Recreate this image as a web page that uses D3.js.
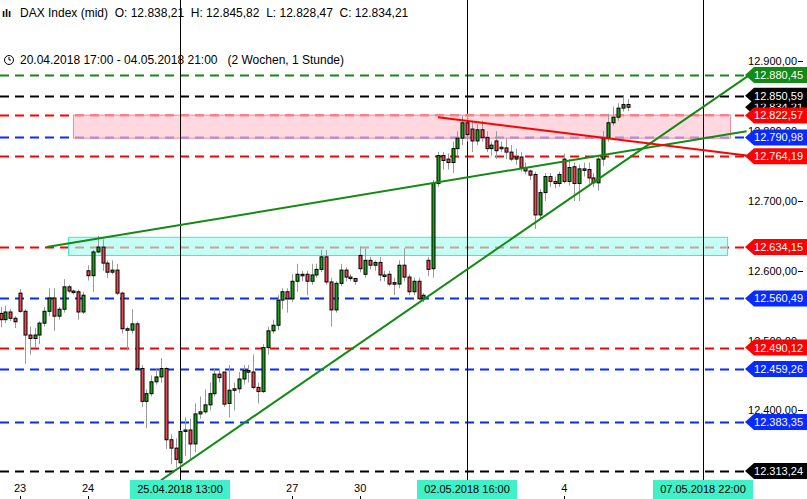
<!DOCTYPE html>
<html><head><meta charset="utf-8">
<script src="https://cdn.jsdelivr.net/npm/d3@7"></script>
<style>
body{margin:0;background:#fff;font-family:Arial,"Liberation Sans",sans-serif}
svg text{font-family:Arial,"Liberation Sans",sans-serif;white-space:pre}
</style></head>
<body><svg id="chart" width="807" height="499"></svg>
<script>
// hourly bars 20.04.2018 17:00 - 04.05.2018 21:00, 14 bars per day (08..21)
const opens  = [12545,12539,12530,12541,12532, 12568,12542,12508,12503,12508,12525,12542,12561,12535,12545,12577,12571,12570,12541,
  12600,12593,12627,12634,12611,12598,12601,12568,12517,12515,12524,12460,12413,12424, 12441,12448,12460,12358,12346,12325,12370,12372,12352,12395,12398,12408,12424,12452,
  12455,12410,12429,12431,12445,12457,12455,12433,12427,12490,12514,12522,12558,12570, 12560,12585,12595,12595,12585,12594,12602,12620,12584,12544,12582,12601,12591,12589,
  12622,12595,12615,12608,12612,12594,12595,12581,12581,12608,12591,12570,12585,12560, 12615,12603,12725,12765,12760,12755,12775,12790,12812,12803,12786,12802,12791,12775,
  12786,12777,12776,12770,12760,12763,12748,12743,12738,12680,12712,12735,12728,12725, 12760,12728,12749,12725,12746,12745,12733,12726,12760,12790,12812,12820,12833,12838.21]
const highs  = [12550,12548,12550,12545,12535, 12574,12545,12520,12518,12528,12548,12575,12575,12548,12588,12580,12573,12573,12570,
  12608,12630,12650,12645,12615,12615,12610,12570,12520,12545,12527,12465,12430,12450, 12460,12475,12462,12366,12360,12372,12390,12388,12410,12420,12430,12440,12460,12460,
  12455,12465,12440,12455,12465,12465,12480,12440,12495,12520,12530,12565,12575,12575, 12595,12610,12600,12600,12610,12610,12630,12630,12590,12585,12610,12605,12595,12590,
  12635,12632,12620,12615,12620,12600,12600,12590,12615,12632,12595,12590,12590,12568, 12620,12730,12770,12770,12768,12785,12800,12822,12825,12815,12810,12815,12800,12785,
  12800,12785,12790,12780,12775,12770,12755,12745,12742,12717,12740,12740,12735,12742, 12768,12760,12755,12752,12755,12755,12740,12765,12800,12825,12835,12840,12850,12845.82]
const lows   = [12535,12519,12525,12528,12518, 12540,12467,12480,12490,12495,12520,12535,12514,12530,12540,12568,12566,12530,12538,
  12586,12570,12625,12600,12590,12595,12565,12510,12486,12510,12460,12405,12375,12420, 12437,12440,12345,12323,12318,12320,12335,12330,12340,12388,12395,12400,12420,12440,
  12405,12390,12400,12425,12437,12440,12430,12410,12425,12480,12510,12515,12545,12540, 12555,12570,12585,12565,12580,12590,12598,12580,12520,12540,12578,12585,12585,12580,
  12598,12590,12602,12600,12585,12585,12578,12565,12575,12585,12565,12565,12558,12555, 12592,12590,12720,12745,12745,12740,12765,12780,12785,12770,12780,12785,12770,12765,
  12760,12770,12760,12757,12752,12742,12738,12730,12660,12675,12700,12720,12718,12720, 12725,12722,12700,12700,12735,12725,12720,12715,12750,12785,12808,12815,12828,12828.47]
const closes = [12539,12530,12541,12532,12527, 12542,12508,12503,12508,12525,12542,12561,12535,12545,12577,12571,12570,12541,12565,
  12593,12627,12634,12611,12598,12601,12568,12517,12515,12524,12460,12413,12424,12441, 12448,12460,12358,12346,12330,12370,12372,12352,12395,12398,12408,12424,12452,12447,
  12409,12429,12431,12445,12457,12455,12433,12427,12490,12514,12522,12558,12570,12560, 12585,12595,12594,12585,12594,12602,12620,12584,12544,12582,12601,12591,12589,12585,
  12603,12615,12608,12612,12594,12593,12581,12583,12608,12591,12570,12585,12560,12565, 12602,12725,12765,12758,12755,12775,12790,12812,12795,12786,12802,12791,12775,12780,
  12772,12776,12770,12760,12763,12747,12743,12737,12680,12712,12735,12728,12725,12738, 12728,12748,12725,12746,12745,12733,12726,12760,12790,12812,12820,12833,12838,12834.21]

// day ticks: bar index of first bar of each day
const dayTicks = [[5,"23"],[19,"24"],[61,"27"],[75,"30"],[117,"4"]]
const markers = [[38,"25.04.2018 13:00"],[97,"02.05.2018 16:00"],[145.5,"07.05.2018 22:00"]]

const levels = [12880.45,12850.59,12822.57,12790.98,12764.19,12634.15,12560.49,12490.12,12459.26,12383.35,12313.24]
const levelColors = ["#138a13","#000","#ff0000","#0a2bff","#ff0000","#ff0000","#0a2bff","#ff0000","#0a2bff","#0a2bff","#000"]
const yTicks = [12900,12800,12700,12600,12500,12400]

// zones [start bar, end bar, top, bottom]
const zones = [[16,151.2,12823,12790,"#ffc4ce","#f08a9c"],[15,150.6,12648,12622,"#a8fcef","#2fefc8"]]
// trend lines [bar, price, bar, price]
const trends = [[10.5,12634,154.5,12800,"#138a13"],[34,12300,155,12880,"#138a13"],[91,12820,154.5,12765,"#ff0000"]]

const loc = d3.formatLocale({decimal:",",thousands:".",grouping:[3],currency:["",""]})
const fmt = loc.format(",.2f")

const svg = d3.select("#chart")
const x = d3.scaleLinear().domain([5,145]).range([20,700.4])
const y = d3.scaleLinear().domain([12313.24,12880.45]).range([471,75])
const right = 748, bottom = 481

const plot = svg.append("g")
plot.append("clipPath").attr("id","clip").append("rect").attr("width",right).attr("height",bottom)
const g = plot.append("g").attr("clip-path","url(#clip)")

// horizontal levels
levels.forEach((v,i) => g.append("line")
  .attr("x1",0).attr("x2",right).attr("y1",Math.round(y(v))+0.5).attr("y2",Math.round(y(v))+0.5)
  .attr("stroke",levelColors[i]).attr("stroke-width",2).attr("stroke-dasharray","9,6"))

// zones over the levels
zones.forEach(z => g.append("rect")
  .attr("x",x(z[0])).attr("width",x(z[1])-x(z[0]))
  .attr("y",y(z[2])).attr("height",y(z[3])-y(z[2]))
  .attr("fill",z[4]).attr("fill-opacity",0.65).attr("stroke",z[5]))

// vertical markers
markers.forEach(m => g.append("line").attr("x1",Math.round(x(m[0]))+0.5).attr("x2",Math.round(x(m[0]))+0.5)
  .attr("y1",0).attr("y2",bottom).attr("stroke","#000"))

// candles
const idx = d3.range(closes.length)
g.selectAll(".wick").data(idx).join("line")
  .attr("x1",i=>Math.round(x(i))+0.5).attr("x2",i=>Math.round(x(i))+0.5)
  .attr("y1",i=>y(highs[i])).attr("y2",i=>y(lows[i])).attr("stroke","#9a9a9a")
g.selectAll(".body").data(idx).join("rect")
  .attr("x",i=>Math.round(x(i))-1).attr("width",3)
  .attr("y",i=>y(Math.max(opens[i],closes[i])))
  .attr("height",i=>Math.max(1.5,Math.abs(y(opens[i])-y(closes[i]))))
  .attr("fill",i=>closes[i]>=opens[i]?"#17a317":"#f2444e").attr("stroke","#000").attr("stroke-width",1)

// trend lines
trends.forEach(t => g.append("line").attr("x1",x(t[0])).attr("y1",y(t[1])).attr("x2",x(t[2])).attr("y2",y(t[3]))
  .attr("stroke",t[4]).attr("stroke-width",2))

// y axis tick labels
yTicks.forEach(v => {
  svg.append("text").attr("x",797).attr("y",y(v)+4).attr("text-anchor","end").attr("font-size",11).text(fmt(v))
  svg.append("line").attr("x1",798).attr("x2",803).attr("y1",Math.round(y(v))+0.5).attr("y2",Math.round(y(v))+0.5).attr("stroke","#000")
})

// price tags
function tag(v,col){
  const yy = y(v), h = 16
  const gg = svg.append("g").attr("transform",`translate(745,${yy})`)
  gg.append("path").attr("d",`M0,0 L9,${-h/2} L62,${-h/2} L62,${h/2} L9,${h/2} Z`).attr("fill",col)
  gg.append("text").attr("x",58).attr("y",4).attr("text-anchor","end").attr("font-size",11).attr("fill","#fff").text(fmt(v))
}
tag(closes[closes.length-1],"#000")
levels.forEach((v,i) => tag(v,levelColors[i]))

// x axis
dayTicks.forEach(d => {
  svg.append("text").attr("x",x(d[0])).attr("y",492).attr("text-anchor","middle").attr("font-size",11).text(d[1])
  svg.append("line").attr("x1",Math.round(x(d[0]))+0.5).attr("x2",Math.round(x(d[0]))+0.5).attr("y1",496).attr("y2",499).attr("stroke","#000")
})
markers.forEach(m => {
  const cx = Math.round(x(m[0]))
  svg.append("rect").attr("x",cx-50).attr("y",480).attr("width",100).attr("height",19).attr("fill","#3ff0c8")
  svg.append("text").attr("x",cx).attr("y",493).attr("text-anchor","middle").attr("font-size",11).text(m[1])
})

// header
svg.append("text").attr("x",2).attr("y",17).attr("font-size",11).attr("font-weight","bold").text("ılı")
svg.append("text").attr("x",20).attr("y",17).attr("font-size",12)
  .text("DAX Index (mid)  O: " + fmt(opens[130]) + "  H: " + fmt(highs[130]) + "  L: " + fmt(lows[130]) + "  C: " + fmt(closes[130]))
svg.append("circle").attr("cx",9).attr("cy",60).attr("r",4.5).attr("fill","none").attr("stroke","#000")
svg.append("path").attr("d","M9,57 V60 H11").attr("fill","none").attr("stroke","#000")
svg.append("text").attr("x",20).attr("y",64).attr("font-size",12).text("20.04.2018 17:00 - 04.05.2018 21:00   (2 Wochen, 1 Stunde)")
</script></body></html>
